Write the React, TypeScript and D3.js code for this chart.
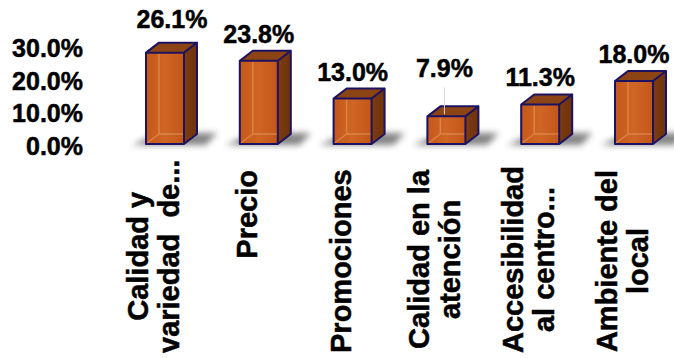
import React from "react";
import * as d3 from "d3";

const categories = [
  "Calidad y variedad de productos",
  "Precio",
  "Promociones",
  "Calidad en la atención",
  "Accesibilidad al centro comercial",
  "Ambiente del local",
];
const categoryLines = [
  ["Calidad y", "variedad  de..."],
  ["Precio"],
  ["Promociones"],
  ["Calidad en la", "atención"],
  ["Accesibilidad", "al centro..."],
  ["Ambiente del", "local"],
];
const values = [26.1, 23.8, 13.0, 7.9, 11.3, 18.0];
const yTicks = [0, 10, 20, 30];

// layout constants
const W = 674;
const H = 358;
const FONT = "'Liberation Sans', Arial, sans-serif";
const BAR_W = 38;
const DX = 13;
const DY = 10;
const labelLift = [25, 18, 18, 39, 18, 18];
const labelShift = [7, 0, 0, -2, 0, 0];
const CAT_SIZE = 29;

let ctx: CanvasRenderingContext2D | null = null;
function measure(text: string, size: number) {
  if (!ctx) {
    const c = document.createElement("canvas");
    ctx = c.getContext("2d");
  }
  if (!ctx) return text.length * size * 0.55;
  ctx.font = `bold ${size}px 'Liberation Sans', Arial, sans-serif`;
  return ctx.measureText(text).width;
}

export default function App() {
  const x = d3.scalePoint<string>().domain(categories).range([165, 634]);
  const y = d3.scaleLinear().domain([0, 30]).range([144, 39]);
  const yAxis = d3.scaleLinear().domain([0, 30]).range([155, 57]);
  const base = y(0);
  const textStroke = { stroke: "#000", strokeWidth: 0.5 };

  return (
    <svg
      width={W}
      height={H}
      style={{ position: "absolute", left: 0, top: 0, background: "#fff" }}
      fontFamily={FONT}
    >
      <defs>
        <linearGradient id="front" x1="0" x2="1" y1="0" y2="0">
          <stop offset="0" stopColor="#c6581a" />
          <stop offset="0.5" stopColor="#cf6624" />
          <stop offset="1" stopColor="#c2561a" />
        </linearGradient>
        <linearGradient id="side" x1="0" x2="1" y1="0" y2="0">
          <stop offset="0" stopColor="#7e3c10" />
          <stop offset="1" stopColor="#6e320c" />
        </linearGradient>
        <filter id="blur" x="-50%" y="-200%" width="200%" height="500%">
          <feGaussianBlur stdDeviation="3" />
        </filter>
      </defs>

      {/* y axis labels */}
      {yTicks.map((t) => (
        <text
          key={t}
          x={83}
          y={yAxis(t)}
          textAnchor="end"
          fontSize={25}
          fontWeight="bold"
          fill="#000"
          {...textStroke}
        >
          {d3.format(".1f")(t) + "%"}
        </text>
      ))}

      {/* shadows */}
      {values.map((v, i) => {
        const cx = x(categories[i])!;
        const x0 = cx - BAR_W / 2;
        const x1 = cx + BAR_W / 2;
        const pts = [
          [x0 - 14, base + 1],
          [x1 + 22, base + 1],
          [x1 + DX + 20, base - DY - 1],
          [x0 + DX, base - DY - 1],
        ];
        return (
          <polygon
            key={"s" + i}
            points={pts.map((p) => p.join(",")).join(" ")}
            fill="#333"
            opacity={0.6}
            filter="url(#blur)"
          />
        );
      })}

      {/* bars */}
      {values.map((v, i) => {
        const cx = x(categories[i])!;
        const x0 = cx - BAR_W / 2;
        const x1 = cx + BAR_W / 2;
        const top = y(v);
        const stroke = "#1c1262";
        const front = `M${x0},${top}H${x1}V${base}H${x0}Z`;
        const topFace = `M${x0},${top}L${x0 + DX},${top - DY}H${x1 + DX}L${x1},${top}Z`;
        const sideFace = `M${x1},${top}L${x1 + DX},${top - DY}V${base - DY}L${x1},${base}Z`;
        return (
          <g key={"b" + i}>
            <path d={front} fill="url(#front)" />
            <path
              d={`M${x0 + DX},${top - DY + 2}V${base - DY}H${x1}M${x0 + DX},${base - DY}L${x0 + 1},${base - 1}`}
              stroke="#e3925a"
              strokeWidth={1.5}
              fill="none"
              opacity={0.7}
            />
            <path d={sideFace} fill="url(#side)" />
            <path d={topFace} fill="#8c4414" />
            <path
              d={`${front}${topFace}${sideFace}`}
              fill="none"
              stroke={stroke}
              strokeWidth={2}
              strokeLinejoin="round"
            />
          </g>
        );
      })}

      {/* leader line for shifted label */}
      {values.map((v, i) =>
        labelLift[i] > 30 ? (
          <line
            key={"l" + i}
            x1={x(categories[i])! + labelShift[i]}
            x2={x(categories[i])! + labelShift[i]}
            y1={y(v) - labelLift[i] + 10}
            y2={y(v) - 2}
            stroke="#d8d8d8"
            strokeWidth={1}
          />
        ) : null
      )}

      {/* value labels */}
      {values.map((v, i) => (
        <text
          key={"v" + i}
          x={x(categories[i])! + labelShift[i]}
          y={y(v) - labelLift[i]}
          textAnchor="middle"
          fontSize={25}
          fontWeight="bold"
          fill="#000"
          {...textStroke}
        >
          {d3.format(".1f")(v) + "%"}
        </text>
      ))}

      {/* category labels (rotated) */}
      {categoryLines.map((lines, i) => {
        const size = CAT_SIZE;
        const lens = lines.map((l) => measure(l, size));
        const B = Math.max(...lens);
        const bottom = 353;
        const cy = 170 + B > bottom ? bottom - B / 2 : 170 + B / 2;
        const blockCx = x(categories[i])! - 12;
        const n = lines.length;
        return (
          <g key={"c" + i}>
            {lines.map((ln, j) => {
              const lx = blockCx + (j - (n - 1) / 2) * 31;
              return (
                <text
                  key={j}
                  transform={`translate(${lx},${cy}) rotate(-90)`}
                  textAnchor="middle"
                  dy="0.36em"
                  fontSize={size}
                  fontWeight="bold"
                  fill="#000"
                  style={{ whiteSpace: "pre" }}
                  {...textStroke}
                >
                  {ln}
                </text>
              );
            })}
          </g>
        );
      })}
    </svg>
  );
}
